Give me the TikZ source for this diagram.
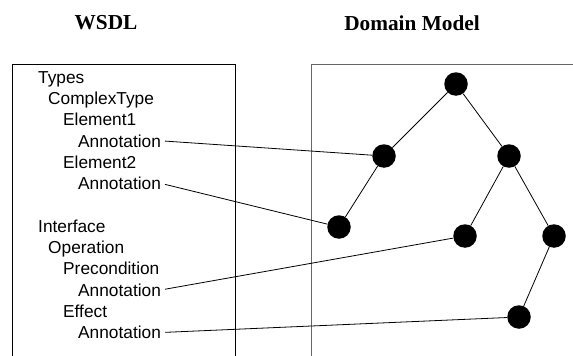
\documentclass[tikz,border=0pt]{standalone}
\usepackage{fontspec}
\setmainfont{Liberation Sans}
\newfontfamily\titlefont{Liberation Serif}
\usetikzlibrary{positioning}

\begin{document}
\begin{tikzpicture}[x=1pt, y=1pt, on grid,
vertex/.style={circle, fill=black, minimum size = 23.5pt, inner sep = 0pt},
item/.style={anchor=base west, inner sep = 0pt, font=\fontsize{17.3}{20}\selectfont},
title/.style={font=\titlefont\bfseries\fontsize{21.3}{24}\selectfont, inner sep = 0pt},
edge/.style={line width = .8pt},
link/.style={line width = .8pt, shorten <= 4pt},
frame/.style={line width = 1pt}]
\def\bl{below left}
\def\br{below right}
\useasboundingbox (0,0) rectangle (573,-356);

\node[title] (wsdl) at (106,-23) {WSDL};
\node[title] (dm) at (412,-23) {Domain Model};

\draw[frame] (12,-356) -- (12,-64) -- (235,-64) -- (235,-356);
\draw[frame, black!60] (311,-356) -- (311,-64) -- (573,-64);

\node[item] (types) at (38,-83) {Types};
\node[item] (ct) at (48,-104.3) {ComplexType};
\node[item] (el1) at (63,-125.6) {Element1};
\node[item] (el1A) at (78,-147) {Annotation};
\node[item] (el2) at (63,-168.3) {Element2};
\node[item] (el2A) at (78,-189.6) {Annotation};
\node[item] (intf) at (38,-232.2) {Interface};
\node[item] (op) at (48,-253.5) {Operation};
\node[item] (pre) at (63,-274.8) {Precondition};
\node[item] (preA) at (78,-296.1) {Annotation};
\node[item] (eff) at (63,-317.4) {Effect};
\node[item] (effA) at (78,-338.7) {Annotation};

\node[vertex] (root) at (456,-84) {};
\node[vertex] (Lm) [\bl=72pt and 72pt of root] {};
\node[vertex] (Rm) [\br=72pt and 53pt of root] {};
\node[vertex] (LL) [\bl=71pt and 45pt of Lm] {};
\node[vertex] (RL) [\bl=80pt and 44pt of Rm] {};
\node[vertex] (RR) [\br=80pt and 45pt of Rm] {};
\node[vertex] (Bt) [\bl=81pt and 35pt of RR] {};

\draw[edge] (root)--(Lm);
\draw[edge] (root)--(Rm);
\draw[edge] (Lm)--(LL);
\draw[edge] (Rm)--(RL);
\draw[edge] (Rm)--(RR);
\draw[edge] (RR)--(Bt);

\draw[link] (el1A.east)--(Lm);
\draw[link] (el2A.east)--(LL);
\draw[link] (preA.east)--(RL);
\draw[link] (effA.east)--(Bt);
\end{tikzpicture}
\end{document}
